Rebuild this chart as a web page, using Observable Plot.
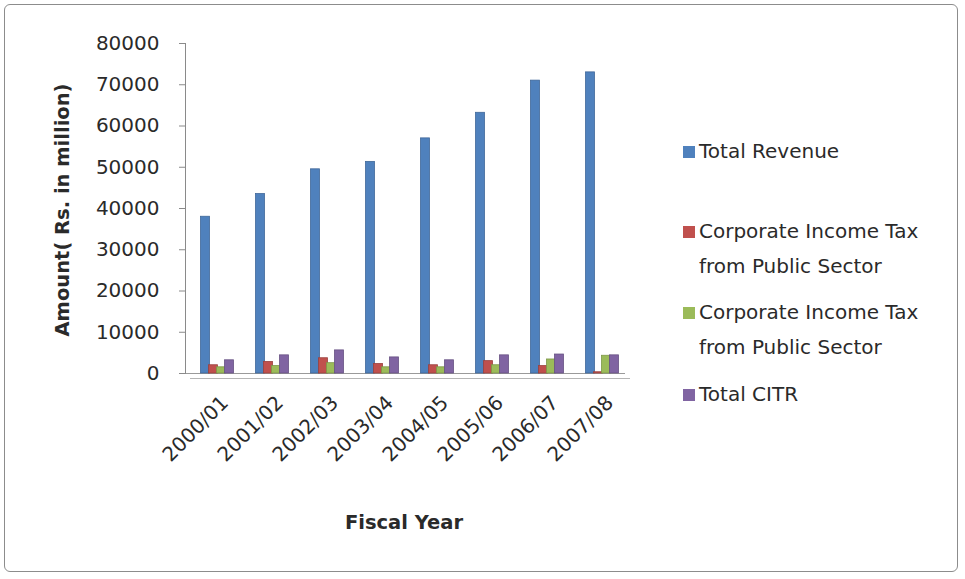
<!DOCTYPE html>
<html><head><meta charset="utf-8">
<script src="https://cdn.jsdelivr.net/npm/d3@7"></script>
<script src="https://cdn.jsdelivr.net/npm/@observablehq/plot@0.6"></script>
<style>
body{margin:0;background:#fff;font-family:"DejaVu Sans",sans-serif;color:#2a2a2a;}
#wrap{position:relative;width:965px;height:579px;overflow:hidden;}
#border{position:absolute;left:4px;top:4px;width:954px;height:568px;border:1px solid #8c8c8c;border-radius:6px;box-sizing:border-box;}
#chart{position:absolute;left:0;top:0;}
.ytitle{position:absolute;left:62px;top:210px;transform:translate(-50%,-50%) rotate(-90deg);white-space:nowrap;font-weight:bold;font-size:19.5px;}
.xtitle{position:absolute;left:404px;top:522px;transform:translate(-50%,-50%);font-weight:bold;font-size:19.5px;white-space:nowrap;}
.legend{position:absolute;left:683px;font-size:20px;line-height:35px;}
.item{position:absolute;left:0;display:flex;align-items:flex-start;white-space:nowrap;}
.sw{width:12px;height:12px;margin-top:12px;margin-right:4px;flex:none;}
</style></head>
<body>
<div id="wrap">
<div id="border"></div>
<div id="chart"></div>
<div class="ytitle">Amount( Rs. in million)</div>
<div class="xtitle">Fiscal Year</div>
<div class="legend" id="legend"></div>
</div>
<script>
const years = ["2000/01","2001/02","2002/03","2003/04","2004/05","2005/06","2006/07","2007/08"];
const seriesKeys = ["revenue","citPublic","citPrivate","citr"];
const seriesLabels = ["Total Revenue","Corporate Income Tax from Public Sector","Corporate Income Tax from Public Sector","Total CITR"];
const seriesColors = ["#4F81BD","#C0504D","#9BBB59","#8064A2"];
const totalRevenue = [38000,43500,49500,51300,57000,63200,71000,73000];
const citPublic   = [2000,2800,3700,2300,2000,3000,1800,300];
const citPrivate  = [1500,1800,2500,1500,1500,2000,3400,4300];
const totalCITR   = [3200,4400,5600,3900,3200,4400,4600,4400];
const yTicks = [0,10000,20000,30000,40000,50000,60000,70000,80000];

const valuesBySeries = [totalRevenue, citPublic, citPrivate, totalCITR];
const data = [];
seriesKeys.forEach((k, si) => years.forEach((yr, yi) => data.push({year: yr, series: k, value: valuesBySeries[si][yi]})));

const barMarks = seriesKeys.map((k, i) => Plot.barY(data.filter(d => d.series === k), {
  x: "year", y: "value", fill: seriesColors[i],
  insetLeft: 23, insetRight: 23, dx: -7.5 + 8 * i,
  stroke: d3.color(seriesColors[i]).darker(0.6).formatHex(), strokeWidth: 0.8
}));

const plot = Plot.plot({
  width: 965, height: 579,
  marginLeft: 185, marginRight: 340, marginTop: 43, marginBottom: 206,
  style: {fontFamily: "'DejaVu Sans', sans-serif", fontSize: "20px", color: "#2a2a2a", background: "transparent"},
  x: {domain: years, padding: 0, label: null},
  y: {domain: [0, 80000], label: null},
  marks: [
    Plot.ruleY([0], {stroke: "#9a9a9a", strokeWidth: 1.2}),
    Plot.ruleY([0], {stroke: "#b5b5b5", strokeWidth: 1, dy: 5, dx: 5}),
    ...barMarks,
    Plot.frame({anchor: "left", stroke: "#8a8a8a"}),
    Plot.axisY({ticks: yTicks, tickSize: 6, tickPadding: 20, tickFormat: d => String(d), stroke: "#8a8a8a", fontSize: 20}),
    Plot.axisX({tickRotate: -45, tickSize: 0, tickPadding: 26, dx: 12, fontSize: 20, label: null})
  ]
});
document.getElementById("chart").appendChild(plot);

const legendTops = [134, 214, 295, 377];
const legend = document.getElementById("legend");
seriesLabels.forEach((lab, i) => {
  const it = document.createElement("div");
  it.className = "item";
  it.style.top = legendTops[i] + "px";
  const sw = document.createElement("div");
  sw.className = "sw"; sw.style.background = seriesColors[i];
  const tx = document.createElement("div");
  if (i === 1 || i === 2) tx.innerHTML = "Corporate Income Tax<br>from Public Sector"; else tx.textContent = lab;
  it.appendChild(sw); it.appendChild(tx);
  legend.appendChild(it);
});
</script>
</body></html>
